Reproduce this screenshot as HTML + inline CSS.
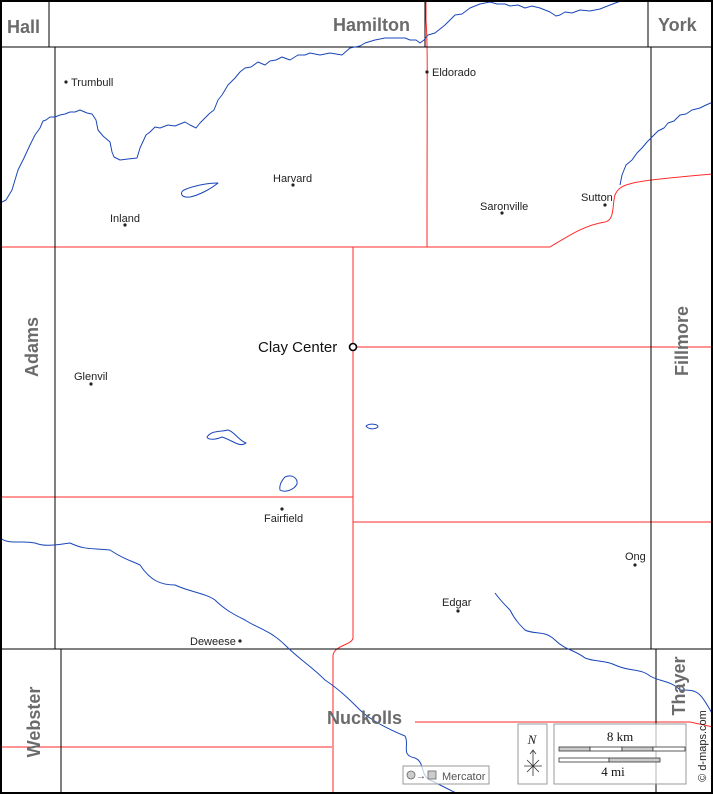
<!DOCTYPE html>
<html><head><meta charset="utf-8"><style>
html,body{margin:0;padding:0;background:#fff}
svg{display:block}
.c{font-family:"Liberation Sans",sans-serif;font-size:11px;fill:#222}
.k{font-family:"Liberation Sans",sans-serif;font-size:18px;font-weight:bold;fill:#6b6b6b}
</style></head><body>
<svg width="713" height="794" viewBox="0 0 713 794" xmlns="http://www.w3.org/2000/svg">
<rect width="713" height="794" fill="#fff"/>
<g fill="none" stroke="#ff2a2a" stroke-width="1">
<path d="M0 247 H550 C570 235 585 225 605 222 C615 220 612 205 615 195 C620 183 630 181 713 174"/>
<path d="M426 0 V20 C428 50 427 80 427 247"/>
<path d="M353 247 V638 C352 645 335 645 333 655 V794"/>
<path d="M353 347 H713"/>
<path d="M0 497 H353"/>
<path d="M353 522 H713"/>
<path d="M0 747 H332"/>
<path d="M415 722 H690 L713 727"/>
</g>
<g fill="none" stroke="#000" stroke-width="1">
<path d="M0 47 H713"/>
<path d="M49 0 V47 M425 0 V47 M648 0 V47"/>
<path d="M55 47 V649 M651 47 V649"/>
<path d="M0 649 H713"/>
<path d="M61 649 V794 M656 649 V794"/>
</g>
<g fill="none" stroke="#1a47b8" stroke-width="1" stroke-linejoin="round">
<polyline points="0,203 6,200 12,190 15,180 18,170 24,158 30,145 35,135 40,128 43,121 46,120 50,117 55,117 60,115 65,114 70,112 75,112 80,110 87,113 92,114 96,120 98,130 103,136 110,142 112,152 114,157 120,160 128,159 137,158 140,148 146,135 150,132 155,127 160,128 168,125 175,126 185,122 190,125 196,128 200,123 205,118 210,113 214,110 218,100 222,95 228,85 235,78 240,72 245,68 251,67 258,62 265,65 270,61 276,60 282,57 290,60 298,55 305,55 310,53 320,55 330,53 342,55 350,48 360,46 365,43 375,40 385,38 395,38 405,38 410,40 416,40 420,43 424,40 428,35 435,33 445,25 450,20 455,15 462,14 470,8 480,4 490,2 497,4 505,4 510,6 518,5 525,8 532,6 540,8 545,10 550,12 556,16 560,15 565,12 572,13 580,10 590,11 600,9 610,5 618,2 625,0"/>
<polyline points="620,185 622,175 626,165 632,160 637,153 642,148 647,142 652,137 658,131 664,128 668,123 674,121 680,115 686,114 692,110 700,108 706,105 713,102"/>
<path d="M0 538 C10 545 20 540 35 543 C45 547 55 545 70 543 C85 550 90 548 110 550 C125 560 130 560 140 565 C150 580 160 585 175 585 C190 592 205 593 215 600 C225 610 235 615 245 620 C255 627 270 630 285 645 C300 660 310 665 325 680 C340 690 350 700 360 710 C370 720 390 730 405 736 C410 745 400 755 415 758 C425 762 420 775 430 780 C440 785 450 790 458 794"/>
<path d="M495 593 C500 600 505 605 510 610 C515 620 520 625 525 630 C535 635 545 630 555 640 C565 650 575 650 585 658 C595 662 605 660 615 665 C630 672 640 668 650 676 C660 682 670 680 680 690 C690 690 695 690 700 695 C705 700 710 710 713 715"/>
<path d="M184 190 C195 185 210 183 218 183 C212 188 200 195 190 197 C180 198 180 192 184 190 Z"/>
<path d="M207 437 C212 430 220 432 228 430 C235 432 238 440 246 443 C240 448 232 440 222 437 C215 440 208 440 207 437 Z"/>
<path d="M285 477 C292 474 298 478 297 484 C294 490 285 493 280 490 C279 485 282 480 285 477 Z"/>
<path d="M366 426 C370 423 378 424 378 427 C374 430 368 429 366 426 Z"/>
</g>
<rect x="1" y="1" width="711" height="792" fill="none" stroke="#000" stroke-width="2"/>
<g fill="#222">
<circle cx="66" cy="82" r="1.6"/><circle cx="427" cy="72" r="1.6"/><circle cx="293" cy="185" r="1.6"/>
<circle cx="125" cy="225" r="1.6"/><circle cx="502" cy="213" r="1.6"/><circle cx="605" cy="205" r="1.6"/>
<circle cx="91" cy="384" r="1.6"/><circle cx="282" cy="509" r="1.6"/><circle cx="635" cy="565" r="1.6"/>
<circle cx="458" cy="611" r="1.6"/><circle cx="240" cy="641" r="1.6"/>
</g>
<circle cx="353" cy="347" r="3.5" fill="#fff" stroke="#000" stroke-width="1.6"/>
<g class="c">
<text x="71" y="86">Trumbull</text><text x="432" y="76">Eldorado</text>
<text x="273" y="182">Harvard</text><text x="110" y="222">Inland</text>
<text x="480" y="210">Saronville</text><text x="581" y="201">Sutton</text>
<text x="74" y="380">Glenvil</text><text x="264" y="522">Fairfield</text>
<text x="625" y="560">Ong</text><text x="442" y="606">Edgar</text>
<text x="190" y="645">Deweese</text>
</g>
<text x="258" y="352" style="font-family:'Liberation Sans',sans-serif;font-size:15px;fill:#111">Clay Center</text>
<g class="k">
<text x="7" y="33">Hall</text>
<text x="333" y="31">Hamilton</text>
<text x="658" y="31">York</text>
<text x="327" y="724">Nuckolls</text>
<text transform="translate(38,347) rotate(-90)" text-anchor="middle">Adams</text>
<text transform="translate(688,341) rotate(-90)" text-anchor="middle">Fillmore</text>
<text transform="translate(40,722) rotate(-90)" text-anchor="middle">Webster</text>
<text transform="translate(685,686) rotate(-90)" text-anchor="middle">Thayer</text>
</g>
<text transform="translate(706,746) rotate(-90)" text-anchor="middle" style="font-family:'Liberation Sans',sans-serif;font-size:11px;fill:#222">© d-maps.com</text>
<g fill="rgba(255,255,255,0.7)" stroke="#999">
<rect x="518" y="724" width="29" height="60"/>
<rect x="554" y="724" width="132" height="60"/>
<rect x="403" y="766" width="86" height="18"/>
</g>
<text x="532" y="744" text-anchor="middle" style="font-family:'Liberation Serif',serif;font-style:italic;font-size:13px;fill:#222">N</text>
<g stroke="#333" stroke-width="0.8" fill="none">
<path d="M533 750 V776 M530 754 L533 750 L536 754 M524 766 H542 M527 760 L539 772 M539 760 L527 772"/>
</g>
<text x="620" y="741" text-anchor="middle" style="font-family:'Liberation Serif',serif;font-size:13px;fill:#111">8 km</text>
<g stroke="#333" stroke-width="0.8">
<rect x="559" y="747" width="31" height="4" fill="#ccc"/><rect x="590" y="747" width="32" height="4" fill="#fff"/>
<rect x="622" y="747" width="31" height="4" fill="#ccc"/><rect x="653" y="747" width="32" height="4" fill="#fff"/>
<rect x="559" y="758" width="50" height="4" fill="#fff"/><rect x="609" y="758" width="51" height="4" fill="#ccc"/>
</g>
<text x="613" y="776" text-anchor="middle" style="font-family:'Liberation Serif',serif;font-size:13px;fill:#111">4 mi</text>
<circle cx="411" cy="775" r="4" fill="#ccc" stroke="#666" stroke-width="0.8"/>
<text x="416" y="779" style="font-family:'Liberation Sans',sans-serif;font-size:10px;fill:#444">→</text>
<rect x="428" y="771" width="8" height="8" fill="#ccc" stroke="#666" stroke-width="0.8"/>
<text x="442" y="780" style="font-family:'Liberation Sans',sans-serif;font-size:11px;fill:#555">Mercator</text>
</svg>
</body></html>
